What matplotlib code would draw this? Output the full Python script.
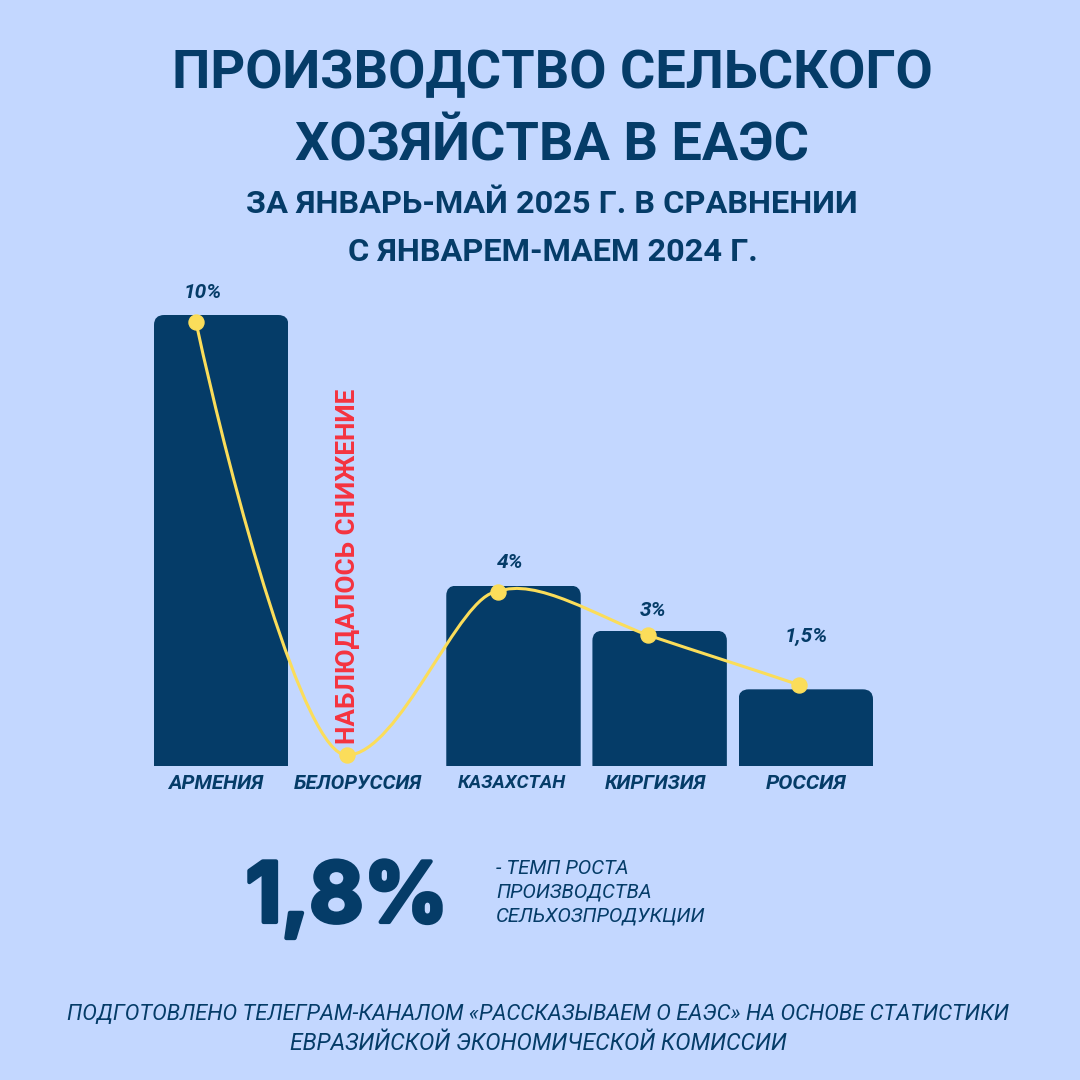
import matplotlib
matplotlib.use("Agg")
import matplotlib.pyplot as plt
import matplotlib.patheffects as pe
from matplotlib.path import Path
from matplotlib.patches import PathPatch

# ---- data ----
categories = ["АРМЕНИЯ", "БЕЛОРУССИЯ", "КАЗАХСТАН", "КИРГИЗИЯ", "РОССИЯ"]
bar_values = [10, 0, 4, 3, 1.7]
line_values = [9.84, 0.24, 3.86, 2.9, 1.8]
value_labels = ["10%", "", "4%", "3%", "1,5%"]
title_lines = ["ПРОИЗВОДСТВО СЕЛЬСКОГО", "ХОЗЯЙСТВА В ЕАЭС"]
subtitle_lines = ["ЗА ЯНВАРЬ-МАЙ 2025 Г. В СРАВНЕНИИ", "С ЯНВАРЕМ-МАЕМ 2024 Г."]
decline_note = "НАБЛЮДАЛОСЬ СНИЖЕНИЕ"
total_value = "1,8%"
total_lines = ["- ТЕМП РОСТА", "ПРОИЗВОДСТВА", "СЕЛЬХОЗПРОДУКЦИИ"]
footer_lines = ["ПОДГОТОВЛЕНО ТЕЛЕГРАМ-КАНАЛОМ «РАССКАЗЫВАЕМ О ЕАЭС» НА ОСНОВЕ СТАТИСТИКИ",
                "ЕВРАЗИЙСКОЙ ЭКОНОМИЧЕСКОЙ КОМИССИИ"]

# ---- style ----
BG, NAVY, YELLOW, RED = "#C3D7FF", "#053C68", "#FBDD5A", "#F5333F"
FONT = "Roboto"
W = H = 1080
fig = plt.figure(figsize=(W / 100, H / 100), dpi=100, facecolor=BG)

def px(x0, y0, x1, y1):
    """Axes rectangle from pixel edges (y measured from the top)."""
    return [x0 / W, 1 - y1 / H, (x1 - x0) / W, (y1 - y0) / H]

def label(x, y, s, **kw):
    kw.setdefault("ha", "center")
    kw.setdefault("va", "center")
    kw.setdefault("color", NAVY)
    kw.setdefault("family", FONT)
    return fig.text(x / W, 1 - y / H, s, **kw)

# ---- bars ----
ax = fig.add_axes(px(154, 315, 873, 766))
ax.set_facecolor("none")
positions = list(range(len(categories)))
bar_w = 0.92
bars = ax.bar(positions, bar_values, width=bar_w, color=NAVY, linewidth=0)
ax.set_xlim(-bar_w / 2, positions[-1] + bar_w / 2)
ax.set_ylim(0, 10)
rx, ry = 0.07, 0.22
for rect in bars:
    x0, x1, top = rect.get_x(), rect.get_x() + rect.get_width(), rect.get_height()
    if top <= 0:
        continue
    verts = [(x0, 0), (x0, top - ry), (x0, top), (x0 + rx, top), (x1 - rx, top),
             (x1, top), (x1, top - ry), (x1, 0), (x0, 0)]
    codes = [Path.MOVETO, Path.LINETO, Path.CURVE3, Path.CURVE3, Path.LINETO,
             Path.CURVE3, Path.CURVE3, Path.LINETO, Path.CLOSEPOLY]
    rect.set_clip_path(Path(verts, codes), ax.transData)
for s in ax.spines.values():
    s.set_visible(False)
ax.set_yticks([])
tick_offsets = [-0.04, -0.065, -0.01, -0.03, 0.005]
tick_sizes = [14.9, 14.7, 13.6, 14.6, 15.2]
ax.set_xticks([p + o for p, o in zip(positions, tick_offsets)])
ax.set_xticklabels(categories, fontweight="bold", fontstyle="italic", color=NAVY, family=FONT)
for t, fs in zip(ax.get_xticklabels(), tick_sizes):
    t.set_fontsize(fs)
ax.tick_params(axis="x", length=0, pad=6)

# ---- smooth line on its own category scale ----
lx = fig.add_axes(px(196, 315, 799, 766))
lx.set_facecolor("none")
lx.axis("off")
lx.set_xlim(0, 4)
lx.set_ylim(0, 10)
handles_out = [(0.245, -3.79), (0.35, 0.0), (0.25, 0.35), (0.33, -0.37)]
handles_in = [(-0.28, 0.0), (-0.25, 0.0), (-0.32, 0.38), (-0.33, 0.37)]
verts, codes = [(0, line_values[0])], [Path.MOVETO]
for i in range(len(line_values) - 1):
    ox, oy = handles_out[i]
    ix, iy = handles_in[i]
    verts += [(i + ox, line_values[i] + oy), (i + 1 + ix, line_values[i + 1] + iy),
              (i + 1, line_values[i + 1])]
    codes += [Path.CURVE4] * 3
lx.add_patch(PathPatch(Path(verts, codes), fc="none", ec=YELLOW, lw=2.2, clip_on=False))
lx.plot(positions, line_values, ls="none", marker="o", ms=10.8, mfc=YELLOW, mec=YELLOW,
        clip_on=False)

# ---- value labels ----
label_px = [(203, 292), None, (510, 563), (653, 610), (806, 636)]
for s, p in zip(value_labels, label_px):
    if p:
        label(p[0], p[1], s, fontsize=15, fontweight="bold", fontstyle="italic")

# ---- headings ----
label(552, 74, title_lines[0], fontsize=39, fontweight="bold")
label(552, 146, title_lines[1], fontsize=39, fontweight="bold")
label(552, 204, subtitle_lines[0], fontsize=23.4, fontweight="bold")
label(553, 252, subtitle_lines[1], fontsize=23.4, fontweight="bold")

label(348, 566, decline_note, rotation=90, color=RED, fontsize=18.8, fontweight="bold")

# ---- total ----
label(347, 900, total_value, fontsize=60, fontweight="bold", family="Inter",
      path_effects=[pe.withStroke(linewidth=3, foreground=NAVY)])
for y, s in zip([868, 892, 916], total_lines):
    label(496, y, s, ha="left", fontsize=14.6, fontstyle="italic")

# ---- footer ----
label(538, 1014, footer_lines[0], fontsize=15.8, fontstyle="italic")
label(538, 1043, footer_lines[1], fontsize=16.6, fontstyle="italic")

fig.savefig("out.png", dpi=100, facecolor=BG)
